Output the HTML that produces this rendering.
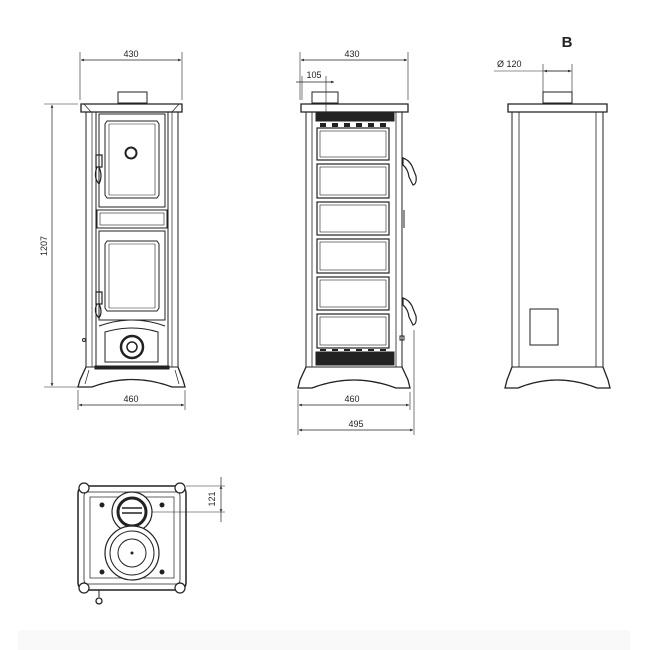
<!DOCTYPE html>
<html><head><meta charset="utf-8"><style>
html,body{margin:0;padding:0;background:#fff;width:650px;height:650px;overflow:hidden}
svg{display:block}
text{font-family:"Liberation Sans",sans-serif;font-size:9px;fill:#222}
</style></head><body>
<svg width="650" height="650" viewBox="0 0 650 650" xmlns="http://www.w3.org/2000/svg">
<defs>
<marker id="a" viewBox="0 0 10 10" refX="10" refY="5" markerWidth="6" markerHeight="4" orient="auto-start-reverse"><path d="M0,0L10,5L0,10z" fill="#222"/></marker>
</defs>
<rect x="18" y="630" width="612" height="20" fill="#f9f9f9"/>
<g stroke="#222" fill="none" stroke-width="1">
<!-- FRONT VIEW -->
<line x1="80" y1="52" x2="80" y2="100" stroke-width=".6"/><line x1="182" y1="52" x2="182" y2="100" stroke-width=".6"/>
<line x1="81" y1="60" x2="181" y2="60" stroke-width=".7" marker-start="url(#a)" marker-end="url(#a)"/>
<line x1="44" y1="104" x2="78" y2="104" stroke-width=".6"/><line x1="44" y1="387" x2="78" y2="387" stroke-width=".6"/>
<line x1="52" y1="105" x2="52" y2="386" stroke-width=".7" marker-start="url(#a)" marker-end="url(#a)"/>
<line x1="78" y1="390" x2="78" y2="410" stroke-width=".6"/><line x1="185" y1="390" x2="185" y2="410" stroke-width=".6"/>
<line x1="79" y1="405" x2="184" y2="405" stroke-width=".7" marker-start="url(#a)" marker-end="url(#a)"/>
<rect x="118" y="92" width="29" height="11"/>
<path d="M81,104H182V112H81Z" stroke-width="1.3"/>
<path d="M84,104L91,112M179,104L172,112" stroke-width=".7"/>
<rect x="86" y="112" width="92" height="255"/>
<rect x="92" y="112" width="80" height="255" stroke-width=".7"/>
<rect x="96" y="112" width="72" height="255"/>
<rect x="99" y="114" width="66" height="93"/>
<path d="M107,121H157L159,124V195L157,198H107L105,195V124Z"/>
<path d="M109,124H155V195H109Z" stroke-width=".6"/>
<circle cx="131" cy="153" r="5.5" stroke-width="2"/>
<rect x="97" y="210" width="70" height="18"/>
<rect x="100" y="213" width="64" height="12" stroke-width=".6"/>
<rect x="99" y="231" width="66" height="89"/>
<path d="M107,241H157L159,244V308L157,311H107L105,308V244Z"/>
<path d="M109,244H155V308H109Z" stroke-width=".6"/>
<path d="M99,326Q132,314 165,326" />
<path d="M105,332Q132,324 158,332V362H105Z"/>
<circle cx="132" cy="347" r="11" stroke-width="2.5"/>
<circle cx="132" cy="347" r="5" stroke-width="1.5"/>
<rect x="95" y="366" width="74" height="3" fill="#222"/>
<path d="M86,367L80,380L78,387H92Q132,372 172,387H185L183,380L178,367" stroke-width="1.3"/>
<path d="M89,370L85,384M175,370L179,384" stroke-width=".7"/>
<path d="M96,155h6v12h-6z M97,167q-4,10 2,17q4,-8 0,-17z" stroke-width="1.2"/>
<path d="M96,292h6v12h-6z M97,304q-4,8 2,14q4,-6 0,-14z" stroke-width="1.2"/>
<circle cx="84" cy="340" r="1.5"/>
<!-- SIDE VIEW -->
<line x1="300" y1="52" x2="300" y2="100" stroke-width=".6"/><line x1="408" y1="52" x2="408" y2="100" stroke-width=".6"/>
<line x1="301" y1="60" x2="407" y2="60" stroke-width=".7" marker-start="url(#a)" marker-end="url(#a)"/>
<line x1="296" y1="82" x2="334" y2="82" stroke-width=".7" marker-end="url(#a)"/>
<line x1="302" y1="76" x2="302" y2="100" stroke-width=".6"/>
<line x1="326" y1="76" x2="326" y2="112" stroke-width=".6"/>
<rect x="312" y="92" width="26" height="11"/>
<path d="M301,104H408V112H301Z" stroke-width="1.3"/>
<rect x="306" y="112" width="96" height="255"/>
<rect x="312" y="112" width="84" height="255" stroke-width=".8"/>
<rect x="316" y="113" width="78" height="8" fill="#222"/>
<rect x="316" y="352" width="78" height="13" fill="#222"/>
<g stroke-width="1.2">
<rect x="317" y="128" width="72" height="32"/><rect x="320" y="131" width="66" height="26" stroke-width=".6"/>
<rect x="317" y="164" width="72" height="34"/><rect x="320" y="167" width="66" height="28" stroke-width=".6"/>
<rect x="317" y="202" width="72" height="33"/><rect x="320" y="205" width="66" height="27" stroke-width=".6"/>
<rect x="317" y="239" width="72" height="34"/><rect x="320" y="242" width="66" height="28" stroke-width=".6"/>
<rect x="317" y="277" width="72" height="33"/><rect x="320" y="280" width="66" height="27" stroke-width=".6"/>
<rect x="317" y="314" width="72" height="34"/><rect x="320" y="317" width="66" height="28" stroke-width=".6"/>
</g>
<path d="M320,123h6v4h-6zM332,123h6v4h-6zM344,123h6v4h-6zM356,123h6v4h-6zM368,123h6v4h-6zM380,123h6v4h-6z" fill="#222" stroke="none"/>
<path d="M320,350h6M332,350h6M344,350h6M356,350h6M368,350h6M380,350h6" stroke-width="2"/>
<path d="M306,367L300,380L298,388H312Q354,372 396,388H410L408,380L402,367" stroke-width="1.3"/>
<path d="M403,158q6,2 9,8l4,10q1,8 -3,9l-4,-8q-1,-8 -6,-12z" stroke-width="1.2"/>
<path d="M403,298q6,2 9,8l4,10q1,8 -3,9l-4,-8q-1,-8 -6,-12z" stroke-width="1.2"/>
<line x1="404" y1="210" x2="404" y2="228"/>
<path d="M400,336h4v4h-4zM402,340v12" stroke-width="1"/>
<line x1="298" y1="390" x2="298" y2="435" stroke-width=".6"/><line x1="410" y1="392" x2="410" y2="410" stroke-width=".6"/>
<line x1="414" y1="330" x2="414" y2="435" stroke-width=".6"/>
<line x1="299" y1="405" x2="409" y2="405" stroke-width=".7" marker-start="url(#a)" marker-end="url(#a)"/>
<line x1="299" y1="430" x2="413" y2="430" stroke-width=".7" marker-start="url(#a)" marker-end="url(#a)"/>
<!-- REAR VIEW -->
<line x1="494" y1="71" x2="572" y2="71" stroke-width=".6"/>
<line x1="543" y1="64" x2="543" y2="92" stroke-width=".6"/>
<line x1="572" y1="64" x2="572" y2="92" stroke-width=".6"/>
<line x1="544" y1="71" x2="571" y2="71" stroke-width=".7" marker-start="url(#a)" marker-end="url(#a)"/>
<rect x="543" y="92" width="29" height="11"/>
<path d="M508,104H607V112H508Z" stroke-width="1.3"/>
<rect x="512" y="112" width="91" height="255"/>
<rect x="519" y="112" width="77" height="255" stroke-width=".8"/>
<rect x="530" y="309" width="28" height="36"/>
<path d="M512,367L507,380L505,388H518Q557,372 597,388H610L608,380L603,367" stroke-width="1.3"/>
<!-- TOP VIEW -->
<path d="M86,486H178Q186,486 186,494V582Q186,590 178,590H86Q78,590 78,582V494Q78,486 86,486Z" stroke-width="1.5"/>
<path d="M88,492H176Q180,492 180,496V580Q180,584 176,584H88Q84,584 84,580V496Q84,492 88,492Z" stroke-width=".8"/>
<rect x="90" y="497" width="84" height="81" stroke-width=".7"/>
<circle cx="132" cy="512" r="20" stroke-width="1.2" fill="#fff"/>
<circle cx="132" cy="512" r="14" stroke-width="3"/>
<path d="M122,508h20M122,513h20" stroke-width="1.5"/>
<circle cx="132" cy="553" r="27" stroke-width="1.2" fill="#fff"/>
<circle cx="132" cy="553" r="22"/>
<circle cx="132" cy="553" r="14"/>
<circle cx="132" cy="553" r="1" fill="#222"/>
<circle cx="102" cy="505" r="2" fill="#222"/><circle cx="162" cy="505" r="2" fill="#222"/>
<circle cx="102" cy="572" r="2" fill="#222"/><circle cx="162" cy="572" r="2" fill="#222"/>
<circle cx="84" cy="488" r="5" stroke-width="1.2" fill="#fff"/><circle cx="180" cy="488" r="5" stroke-width="1.2" fill="#fff"/>
<circle cx="84" cy="588" r="5" stroke-width="1.2" fill="#fff"/><circle cx="180" cy="588" r="5" stroke-width="1.2" fill="#fff"/>
<line x1="99" y1="590" x2="99" y2="597"/><circle cx="99" cy="601" r="3" stroke-width="1.3"/>
<line x1="186" y1="486" x2="225" y2="486" stroke-width=".6"/>
<line x1="152" y1="512" x2="225" y2="512" stroke-width=".6"/>
<line x1="221" y1="477" x2="221" y2="486" stroke-width=".7"/>
<line x1="221" y1="486" x2="221" y2="512" stroke-width=".7" marker-start="url(#a)" marker-end="url(#a)"/>
<line x1="221" y1="512" x2="221" y2="522" stroke-width=".7"/>
</g>
<text x="131" y="57" text-anchor="middle">430</text>
<text transform="translate(47,246) rotate(-90)" text-anchor="middle">1207</text>
<text x="131" y="402" text-anchor="middle">460</text>
<text x="352" y="57" text-anchor="middle">430</text>
<text x="314" y="78" text-anchor="middle">105</text>
<text x="352" y="402" text-anchor="middle">460</text>
<text x="356" y="427" text-anchor="middle">495</text>
<text x="497" y="67">Ø 120</text>
<text x="567" y="47" text-anchor="middle" style="font-size:15px;font-weight:bold">B</text>
<text transform="translate(215,499) rotate(-90)" text-anchor="middle">121</text>
</svg>
</body></html>
